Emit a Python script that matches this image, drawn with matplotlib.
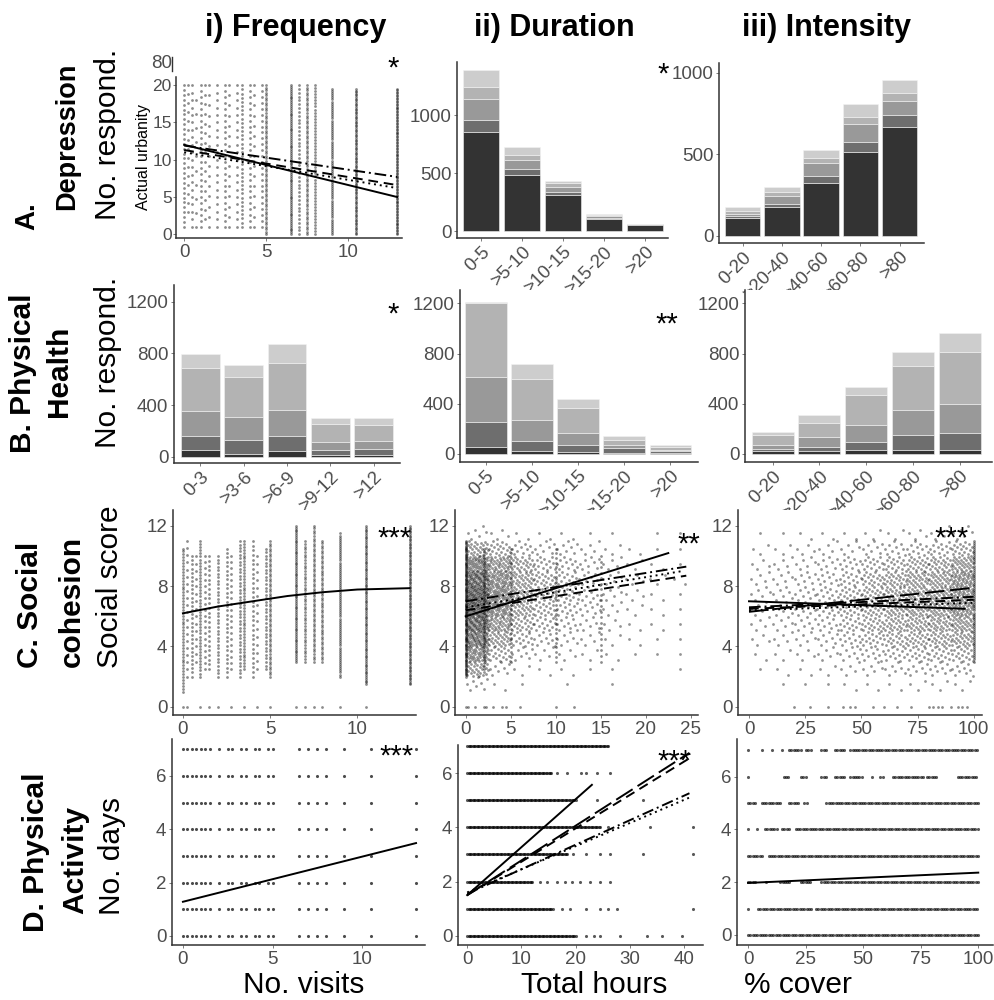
import numpy as np
import matplotlib
matplotlib.use("Agg")
import matplotlib.pyplot as plt
from matplotlib.lines import Line2D

plt.rcParams['font.family'] = ['Liberation Sans', 'DejaVu Sans']

W, H = 994, 1000

# ---------------- categories ----------------
freq_cats = ['0-3', '>3-6', '>6-9', '>9-12', '>12']
dur_cats = ['0-5', '>5-10', '>10-15', '>15-20', '>20']
int_cats = ['0-20', '>20-40', '>40-60', '>60-80', '>80']

# stacked bar counts, darkest layer first
dep_dur = [[853, 483, 310, 106, 55],
           [104, 51, 29, 10, 2],
           [183, 78, 43, 10, 2],
           [101, 43, 34, 8, 2],
           [149, 66, 18, 10, 2]]
dep_int = [[108, 176, 326, 512, 669],
           [14, 20, 43, 65, 72],
           [13, 49, 76, 107, 87],
           [20, 26, 34, 46, 49],
           [24, 27, 48, 76, 78]]
ph_freq = [[52, 20, 44, 10, 10],
           [108, 109, 116, 42, 47],
           [196, 181, 201, 64, 67],
           [328, 309, 362, 137, 121],
           [111, 90, 148, 49, 52]]
ph_dur = [[53, 24, 15, 10, 5],
          [204, 82, 59, 36, 15],
          [358, 165, 93, 26, 15],
          [588, 326, 199, 39, 18],
          [10, 119, 72, 32, 19]]
ph_int = [[20, 24, 29, 32, 32],
          [20, 34, 69, 119, 138],
          [32, 75, 133, 199, 228],
          [79, 117, 239, 347, 418],
          [27, 61, 67, 119, 144]]

# ---------------- frequency scatter (visit levels) ----------------
visits = [0, 0.25, 0.5, 0.75, 1, 1.25, 1.5, 2, 2.5, 2.75, 3.25, 3.5,
          4, 4.25, 4.75, 5, 6.5, 7, 7.5, 8, 9, 10.5, 13]
# depression score spread per visit level: low, high, no. of points
dep_lo = [1, 3, 1, 1, 1, 2, 1, 1, 1, 1, 1, 1, 1, 1, 1, 0, 0, 0, 0, 0, 0, 0, 0]
dep_hi = [20, 20, 20, 18, 20, 20, 20, 20, 20, 20, 20, 20, 20, 20, 20, 20,
          20, 20, 20, 20, 19.5, 19.5, 19.5]
dep_n = [30, 15, 20, 10, 25, 15, 15, 20, 25, 15, 20, 35, 25, 15, 25, 60,
         80, 40, 60, 50, 70, 90, 100]
# social score spread per visit level
soc_lo = [1, 2, 2, 3, 2, 2.5, 2.5, 2, 2, 2.5, 2, 2.5, 2, 2.5, 2.5, 2, 3, 3,
          3, 3, 2, 1.5, 1.5]
soc_hi = [10.5, 11, 10, 10, 11, 10, 10, 10, 10.5, 10, 11, 11, 11, 10, 10.5,
          11, 12, 11, 12, 11, 11.5, 12, 12]
soc_n = [50, 20, 30, 15, 45, 20, 25, 35, 30, 20, 40, 45, 30, 15, 35, 55,
         75, 45, 55, 50, 70, 90, 100]
soc_zero_visits = [0, 0.25, 1, 1.5, 2, 2.75, 3.5, 4.25, 5, 6.5, 7, 7.5, 8, 9, 10.5]
days = [0, 1, 2, 3, 4, 5, 6, 7]

# ---------------- social score clouds (counts per cell, top row first) ----------------
score_edges = [1, 2, 3, 4, 5, 6, 7, 8, 9, 10, 11, 12]
hours_edges = [0, 2.5, 5, 7.5, 10, 12.5, 15, 17.5, 20, 22.5, 25]
soc_dur_counts = [[6, 4, 2, 2, 2, 1, 1, 0, 1, 1],
                  [30, 20, 12, 8, 8, 5, 3, 2, 1, 1],
                  [60, 40, 25, 15, 12, 8, 5, 3, 2, 1],
                  [80, 50, 30, 20, 15, 10, 6, 4, 3, 2],
                  [90, 55, 30, 20, 15, 10, 6, 4, 2, 1],
                  [90, 50, 28, 18, 13, 9, 5, 3, 2, 1],
                  [80, 40, 22, 14, 10, 7, 4, 2, 2, 1],
                  [70, 30, 15, 10, 7, 5, 3, 2, 1, 1],
                  [50, 18, 8, 5, 4, 3, 2, 1, 1, 1],
                  [30, 8, 3, 2, 2, 1, 1, 0, 0, 1],
                  [8, 2, 1, 0, 1, 0, 1, 0, 0, 0]]
soc_dur_streaks = [(0, 2, 11, 120), (2, 2.5, 10.5, 40), (5, 3, 10.5, 25),
                   (10, 3, 10.5, 25), (15, 3, 10, 20)]
soc_dur_zero = [0, 0.3, 1, 2, 2.3, 3, 4, 4.5, 6, 10, 12]

cover_edges = [0, 10, 20, 30, 40, 50, 60, 70, 80, 90, 100]
soc_int_counts = [[1, 1, 2, 2, 2, 3, 3, 4, 5, 6],
                  [3, 3, 4, 5, 6, 8, 10, 12, 14, 20],
                  [4, 5, 6, 8, 11, 15, 18, 22, 25, 35],
                  [5, 6, 8, 10, 14, 20, 25, 30, 32, 45],
                  [6, 7, 9, 12, 17, 22, 28, 32, 35, 45],
                  [6, 7, 9, 12, 17, 22, 28, 32, 35, 45],
                  [5, 6, 8, 10, 15, 20, 25, 28, 30, 35],
                  [4, 5, 6, 8, 12, 16, 20, 22, 25, 28],
                  [2, 3, 4, 6, 8, 11, 13, 15, 16, 18],
                  [1, 2, 2, 3, 5, 6, 7, 8, 9, 10],
                  [0, 1, 1, 1, 2, 2, 2, 3, 3, 3]]
soc_int_streaks = [(100, 3, 11, 60)]
soc_int_zero = [20, 27, 35, 42, 45, 47, 55, 60, 66, 72, 80, 82, 84, 86, 90, 93, 95, 97]

# ---------------- physical activity rows (dense ranges, single points) ----------------
pa_dur_dense = [[(0, 20.2)], [(0, 15.9)], [(0, 12.2)], [(0, 18.5)],
                [(0, 24.5)], [(0, 20.2)], [(0, 15.6)], [(0, 26)]]
pa_dur_single = [[22, 23.3, 24.5, 28.2, 33.1, 35.9, 39.7],
                 [17.4, 19, 22, 24.5, 26, 27.6, 41.7],
                 [13.4, 14.7, 16.5, 18, 19.3, 20.8, 22.7, 24.5, 26.3],
                 [19.6, 22, 24.5, 26.3, 32.5, 41.7],
                 [26, 33.7, 41.7],
                 [24, 32.5],
                 [16.5, 18.4, 21, 22, 23.9, 26.3],
                 []]
pa_int_dense = [[(0, 100)],
                [(0, 0.5), (4.4, 27.4), (29.6, 100)],
                [(0, 3.7), (8, 8.5), (14, 18.5), (23, 27.4), (31.9, 100)],
                [(0, 6.7), (8.9, 100)],
                [(0, 0.5), (3.7, 4), (7.4, 12.6), (14.8, 17.8), (20.7, 100)],
                [(0, 3.7), (6, 14.1), (17.8, 22.2), (24.4, 25.9), (34, 100)],
                [(0, 0.5), (15.5, 17.8), (23, 25.2), (31.9, 34.8), (37.8, 42.2),
                 (44.4, 49.6), (54, 54.5), (57.5, 58.5), (63, 76.3), (77.8, 82.2),
                 (91.1, 100)],
                [(0, 0.5), (6, 6.5), (10.4, 11), (14.8, 15.3), (17.8, 23.7),
                 (25.2, 27.4), (31.9, 34.8), (37.8, 42.2), (44.4, 100)]]

# ---------------- fitted lines (x, y) ----------------
dep_freq_fits = [([0, 13], [12.0, 5.0]), ([0, 13], [11.3, 6.6]),
                 ([0, 13], [11.0, 6.2]), ([0, 13], [11.9, 7.7])]
soc_freq_fit = ([0, 2, 4, 6, 8, 10, 13], [6.2, 6.65, 7.0, 7.35, 7.6, 7.78, 7.87])
soc_dur_fits = [([0, 22.5], [6.0, 10.2]), ([0, 24.5], [6.4, 8.7]),
                ([0, 24], [6.6, 9.0]), ([0, 24.5], [7.0, 9.3])]
soc_int_fits = [([0, 96], [7.0, 6.5]), ([0, 100], [6.5, 7.1]),
                ([0, 100], [6.4, 6.9]), ([0, 100], [6.6, 7.3]),
                ([0, 100], [6.3, 7.9])]
pa_freq_fit = ([0, 13], [1.28, 3.48])
pa_dur_fits = [([0, 23], [1.5, 5.57]), ([0, 41], [1.5, 6.55]),
               ([0, 41], [1.6, 5.1]), ([0, 41], [1.55, 5.26]),
               ([0, 41], [1.5, 6.75])]
pa_int_fit = ([0, 100], [1.97, 2.36])

GREYS = ['#333333', '#6e6e6e', '#999999', '#b3b3b3', '#cdcdcd']
LSTYLES = ['-', (0, (5, 3)), (0, (1, 2)), (0, (6, 2, 1, 2)), (0, (10, 3))]
TICKC = '#4d4d4d'


def box(l, r, t, b):
    return [l / W, 1 - b / H, (r - l) / W, (b - t) / H]


def tidy(ax, xlim, ylim, yticks, xticks=None, ysize=13.5):
    ax.set_xlim(*xlim)
    ax.set_ylim(*ylim)
    ax.set_yticks(yticks)
    if xticks is not None:
        ax.set_xticks(xticks)
    for s in ['top', 'right']:
        ax.spines[s].set_visible(False)
    for s in ['left', 'bottom']:
        ax.spines[s].set_color('#333333')
        ax.spines[s].set_linewidth(1.1)
    ax.tick_params(labelsize=13.5, labelcolor=TICKC, length=2, width=0.6,
                   color='#666666', pad=2)
    ax.tick_params(axis='y', labelsize=ysize)


def stacked(ax, cats, layers, width=0.9):
    x = np.arange(len(cats))
    bottom = np.zeros(len(cats))
    for vals, c in zip(layers, GREYS):
        ax.bar(x, vals, width, bottom=bottom, color=c, edgecolor='#f2f2f2', linewidth=0.4)
        bottom += np.array(vals)
    ax.set_xticks(x)
    ax.set_xticklabels(cats, rotation=45, ha='right', rotation_mode='anchor', fontsize=12.5)


def pts(ax, x, y, a=0.45, s=4):
    ax.scatter(x, y, s=s, c='black', alpha=a, linewidths=0, zorder=1)


def columns(ax, xs, lo, hi, n, a=0.45):
    for x, l, h, k in zip(xs, lo, hi, n):
        pts(ax, np.full(k, x), np.linspace(l, h, k), a)


def cloud(ax, xedges, yedges, counts):
    xs, ys = [], []
    for j, row in enumerate(counts):
        y0, y1 = yedges[-2 - j], yedges[-1 - j]
        for i, k in enumerate(row):
            x0, x1 = xedges[i], xedges[i + 1]
            for m in range(k):
                u = (m + 0.5) / k
                v = (0.5 + m * 0.6180339887) % 1.0
                xs.append(x0 + u * (x1 - x0))
                ys.append(y0 + v * (y1 - y0))
    pts(ax, xs, ys, 0.42)


def rows(ax, dense, single, step, a=0.65):
    for level, segs in enumerate(dense):
        for a0, b0 in segs:
            xv = np.arange(a0, b0 + 1e-6, step)
            pts(ax, xv, np.full(len(xv), level), a, 5)
        if single is not None and single[level]:
            pts(ax, single[level], np.full(len(single[level]), level), a, 5)


def fits(ax, lines):
    for (x, y), ls in zip(lines, LSTYLES):
        ax.plot(x, y, color='black', lw=1.4, linestyle=ls, zorder=3)


fig = plt.figure(figsize=(9.94, 10), dpi=100)

# ---------- row A: depression ----------
ax = fig.add_axes(box(176, 402, 77, 238))
columns(ax, visits, dep_lo, dep_hi, dep_n)
fits(ax, dep_freq_fits)
tidy(ax, (-0.5, 13.3), (-0.5, 21.1), [0, 5, 10, 15, 20], [0, 5, 10], ysize=12.5)
ax.tick_params(axis='y', pad=1)
ax.set_ylabel('Actual urbanity', fontsize=11.5, labelpad=1)

ax = fig.add_axes(box(457, 668, 62, 238))
stacked(ax, dur_cats, dep_dur)
tidy(ax, (-0.585, 4.56), (-60, 1457), [0, 500, 1000])

ax = fig.add_axes(box(719, 924, 63, 243))
stacked(ax, int_cats, dep_int)
tidy(ax, (-0.6, 4.62), (-43, 1059), [0, 500, 1000])

# ---------- row B: physical health ----------
ax = fig.add_axes(box(174, 400, 285, 463))
stacked(ax, freq_cats, ph_freq)
tidy(ax, (-0.61, 4.61), (-49, 1329), [0, 400, 800, 1200])

ax = fig.add_axes(box(460, 698, 290, 462))
stacked(ax, dur_cats, ph_dur)
tidy(ax, (-0.56, 4.6), (-64, 1306), [0, 400, 800, 1200])

ax = fig.add_axes(box(745, 992, 290, 462))
stacked(ax, int_cats, ph_int)
tidy(ax, (-0.59, 4.69), (-64, 1306), [0, 400, 800, 1200])

# ---------- row C: social cohesion ----------
ax = fig.add_axes(box(173, 416, 510, 715))
columns(ax, visits, soc_lo, soc_hi, soc_n)
pts(ax, soc_zero_visits, np.zeros(len(soc_zero_visits)))
ax.plot(*soc_freq_fit, color='black', lw=1.4, zorder=3)
tidy(ax, (-0.57, 13.37), (-0.55, 13.06), [0, 4, 8, 12], [0, 5, 10])

ax = fig.add_axes(box(455, 698, 510, 715))
cloud(ax, hours_edges, score_edges, soc_dur_counts)
for x, l, h, k in soc_dur_streaks:
    pts(ax, np.full(k, x), np.linspace(l, h, k))
pts(ax, soc_dur_zero, np.zeros(len(soc_dur_zero)))
fits(ax, soc_dur_fits)
tidy(ax, (-1.19, 25.8), (-0.55, 13.06), [0, 4, 8, 12], [0, 5, 10, 15, 20, 25])

ax = fig.add_axes(box(738, 982, 510, 715))
cloud(ax, cover_edges, score_edges, soc_int_counts)
for x, l, h, k in soc_int_streaks:
    pts(ax, np.full(k, x), np.linspace(l, h, k))
pts(ax, soc_int_zero, np.zeros(len(soc_int_zero)))
fits(ax, soc_int_fits)
tidy(ax, (-4.9, 103.7), (-0.55, 13.06), [0, 4, 8, 12], [0, 25, 50, 75, 100])

# ---------- row D: physical activity ----------
ax = fig.add_axes(box(172, 425, 739, 945))
vx, dy = np.meshgrid(visits, days)
pts(ax, vx.ravel(), dy.ravel(), 0.7, 5)
ax.plot(*pa_freq_fit, color='black', lw=1.4, zorder=3)
tidy(ax, (-0.61, 13.5), (-0.34, 7.38), [0, 2, 4, 6], [0, 5, 10])

ax = fig.add_axes(box(458, 703, 745, 945))
rows(ax, pa_dur_dense, pa_dur_single, 0.25)
fits(ax, pa_dur_fits)
tidy(ax, (-1.7, 43.5), (-0.34, 7.04), [0, 2, 4, 6], [0, 10, 20, 30, 40])

ax = fig.add_axes(box(737, 993, 739, 945))
rows(ax, pa_int_dense, None, 1.0)
ax.plot(*pa_int_fit, color='black', lw=1.4, zorder=3)
tidy(ax, (-4.8, 106.4), (-0.38, 7.42), [0, 2, 4, 6], [0, 25, 50, 75, 100])

# ---------- texts ----------
def ftxt(x, y, s, **kw):
    fig.text(x / W, 1 - y / H, s, ha='center', va='center', **kw)

for x, t in [(296, 'i) Frequency'), (554, 'ii) Duration'), (826, 'iii) Intensity')]:
    ftxt(x, 28, t, fontsize=22, fontweight='bold')

bold = dict(rotation=90, fontweight='bold')
ftxt(27, 216, 'A.', fontsize=20, **bold)
ftxt(67, 136, 'Depression', fontsize=19.5, **bold)
ftxt(23, 373, 'B. Physical', fontsize=21.5, **bold)
ftxt(59, 371, 'Health', fontsize=21.5, **bold)
ftxt(30, 605, 'C. Social', fontsize=21.5, **bold)
ftxt(72, 601, 'cohesion', fontsize=21.5, **bold)
ftxt(36, 852, 'D. Physical', fontsize=21.5, **bold)
ftxt(75, 860, 'Activity', fontsize=21.5, **bold)

ftxt(108, 134, 'No. respond.', fontsize=21.5, rotation=90)
ftxt(108, 362, 'No. respond.', fontsize=21.5, rotation=90)
ftxt(110, 587, 'Social score', fontsize=21.5, rotation=90)
ftxt(112, 856, 'No. days', fontsize=21.5, rotation=90)

ftxt(304, 985, 'No. visits', fontsize=21.5)
ftxt(594, 985, 'Total hours', fontsize=21.5)
ftxt(798, 985, '% cover', fontsize=21.5)

# leftover tick label from the hidden frequency bar chart
ftxt(162, 64, '80', fontsize=13.5, color=TICKC)
fig.add_artist(Line2D([172 / W, 172 / W], [1 - 57 / H, 1 - 71 / H],
                      color='#333333', lw=1.0))

for x, y, s in [(393, 62, '*'), (663, 68, '*'), (393, 308, '*'), (667, 318, '**'),
                (395, 532, '***'), (689, 538, '**'), (952, 532, '***'),
                (397, 750, '***'), (675, 755, '***')]:
    fig.text(x / W, 1 - (y + 15) / H, s, ha='center', va='baseline', fontsize=21)

fig.savefig('out.png', dpi=100)
